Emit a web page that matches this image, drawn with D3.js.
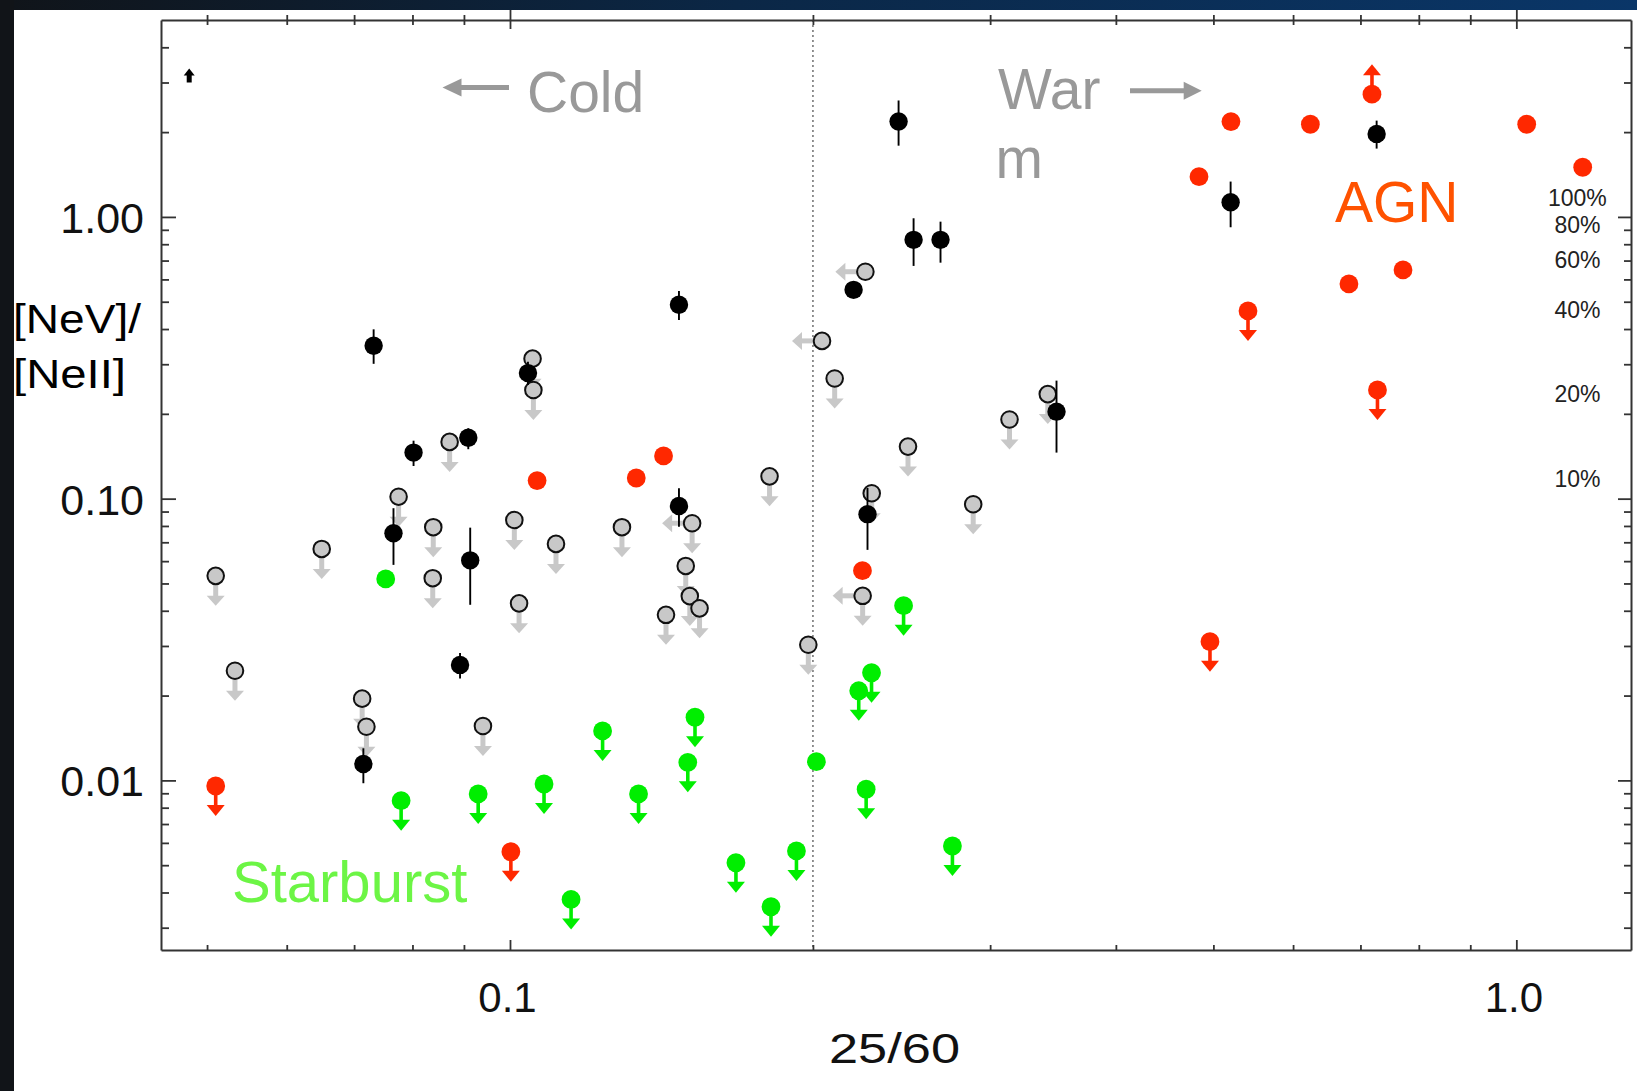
<!DOCTYPE html>
<html><head><meta charset="utf-8">
<script src="https://cdn.jsdelivr.net/npm/d3@7"></script>
<style>html,body{margin:0;padding:0;background:#0f141c;overflow:hidden;} svg{display:block;}</style>
</head><body><svg id="c" width="1637" height="1091"></svg>
<script>
// ---------------- data ----------------
// axis ticks
const xMajorTicks = [0.1, 1.0];
const xMinorTicks = [0.05,0.06,0.07,0.08,0.09,0.2,0.3,0.4,0.5,0.6,0.7,0.8,0.9];
const yMajorTicks = [0.01, 0.1, 1];
const yMinorTicks = [0.003,0.004,0.005,0.006,0.007,0.008,0.009,0.02,0.03,0.04,0.05,0.06,0.07,0.08,0.09,0.2,0.3,0.4,0.5,0.6,0.7,0.8,0.9,2,3,4];
const coldWarmBoundary = 0.2;

// AGN-fraction labels on the right
const pctLabels = ["100%","80%","60%","40%","20%","10%"];
const pctY = [1.171, 0.937, 0.704, 0.470, 0.235, 0.118];
const pctX = 1.15;

// black detections with error bars
const blackX  = [0.0732,0.1042,0.0802,0.0909,0.2433,0.2518,0.2678,0.2195,0.1472,0.3492,0.7264,0.5201,0.0766,0.0913,0.0892,0.0715,0.1472,0.2266];
const blackY  = [0.349, 0.279, 0.1457,0.1646,2.18,  0.829, 0.829, 0.551, 0.488, 0.2036,1.971, 1.128, 0.0754,0.0604,0.0257,0.01143,0.0942,0.0881];
const blackLo = [0.301, 0.253, 0.1306,0.1498,1.79,  0.670, 0.688, 0.551, 0.431, 0.1457,1.748, 0.919, 0.0582,0.0420,0.0230,0.00977,0.0795,0.0658];
const blackHi = [0.399, 0.306, 0.1606,0.1778,2.59,  0.989, 0.962, 0.551, 0.546, 0.2624,2.197, 1.335, 0.0925,0.0789,0.0283,0.0130, 0.1089,0.1091];

// black lower limit (tiny up arrow)
const blackUpX = [0.048];
const blackUpY = [3.0];

// gray upper limits ('d' = down arrow, 'l' = left arrow, 'ld' = both)
const grayX = [0.1053,0.1055,0.0871,0.2255,0.2042,0.2102,0.3423,0.3136,0.2486,0.1811,0.0775,0.0839,0.1010,0.1111,0.1292,0.0650,0.0510,0.0838,0.1021,0.0533,0.0713,0.0720,0.0940,0.1517,0.2288,0.2886,0.1495,0.1509,0.1543,0.1429,0.2241,0.1979];
const grayY = [0.314, 0.243, 0.159, 0.639, 0.363, 0.267, 0.235, 0.191, 0.153, 0.120, 0.1016,0.0792,0.0840,0.0691,0.0792,0.0663,0.0532,0.0522,0.0425,0.0245,0.0195,0.0155,0.0156,0.0818,0.1045,0.0955,0.0577,0.0451,0.0408,0.0387,0.0452,0.0303];
const grayKind = ['d','d','d','l','l','d','d','d','d','d','d','d','d','d','d','d','d','d','d','d','d','d','d','ld','d','d','d','d','d','d','ld','d'];

// red (AGN) detections
const redX = [0.1064,0.1335,0.1421,0.2240,0.5205,0.6242,1.024,1.164,0.4838,0.7716,0.6818];
const redY = [0.1159,0.1184,0.1418,0.0555,2.179, 2.133, 2.133,1.501,1.390, 0.6485,0.5783];
// red upper limits
const redLimX = [0.5412,0.7278,0.4961,0.0510,0.1002];
const redLimY = [0.4637,0.2431,0.03107,0.00955,0.00558];
// red lower limit
const redLowX = [0.7187];
const redLowY = [2.727];

// green (starburst) detections
const greenX = [0.07525,0.2016];
const greenY = [0.0519, 0.01165];
// green upper limits
const greenLimX = [0.1236,0.07795,0.09298,0.1081,0.1342,0.1150,0.2461,0.2287,0.2221,0.1527,0.1502,0.2259,0.2752,0.1926,0.1677,0.1817];
const greenLimY = [0.01498,0.00847,0.00895,0.00971,0.00895,0.00378,0.0417,0.0241,0.0208,0.01675,0.01159,0.0093,0.00585,0.00562,0.00510,0.00356];

// ---------------- drawing ----------------
const W = 1637, H = 1091;
const svg = d3.select('#c');
const defs = svg.append('defs');
const grad = defs.append('linearGradient').attr('id','bg').attr('x1',0).attr('x2',1).attr('y1',0).attr('y2',0);
grad.append('stop').attr('offset','0%').attr('stop-color','#101419');
grad.append('stop').attr('offset','45%').attr('stop-color','#0b2746');
grad.append('stop').attr('offset','100%').attr('stop-color','#0a3668');
svg.append('rect').attr('width',W).attr('height',H).attr('fill','url(#bg)');
svg.append('rect').attr('x',0).attr('y',0).attr('width',14).attr('height',H).attr('fill','#111418');
svg.append('rect').attr('x',14).attr('y',10).attr('width',W-14).attr('height',H-10).attr('fill','#ffffff');

const L = 161, R = 1631, T = 20, B = 950;
const x = d3.scaleLog().domain([0.045, 1.3]).range([L, R]);
const y = d3.scaleLog().domain([0.0025, 5]).range([B, T]);

const FONT = "'Liberation Sans', Arial, Helvetica, sans-serif";
const AX = '#333';

function styleAxis(g, keepDomain){
  g.selectAll('path.domain').attr('stroke', AX).attr('stroke-width', 2);
  if(!keepDomain) g.selectAll('path.domain').remove();
  g.selectAll('.tick line').attr('stroke', AX).attr('stroke-width', 1.8);
  g.selectAll('.tick text').attr('font-family', FONT).attr('fill', '#111');
}

// dotted boundary
svg.append('line')
  .attr('x1', x(coldWarmBoundary)).attr('x2', x(coldWarmBoundary))
  .attr('y1', T).attr('y2', B)
  .attr('stroke', '#808080').attr('stroke-width', 1.7).attr('stroke-dasharray', '2,3');

// left axis
const gl = svg.append('g').attr('transform', `translate(${L},0)`);
gl.call(d3.axisLeft(y).tickValues(yMinorTicks).tickSize(-8).tickSizeOuter(0).tickFormat(''));
styleAxis(gl, false);
const gl2 = svg.append('g').attr('transform', `translate(${L},0)`);
gl2.call(d3.axisLeft(y).tickValues(yMajorTicks).tickSize(-15).tickSizeOuter(0).tickPadding(17).tickFormat(d3.format('.2f')));
styleAxis(gl2, true);
gl2.selectAll('.tick text').attr('font-size', 43).attr('dy', '0.36em');

// right axis
const gr = svg.append('g').attr('transform', `translate(${R},0)`);
gr.call(d3.axisRight(y).tickValues(yMinorTicks).tickSize(-7).tickSizeOuter(0).tickFormat(''));
styleAxis(gr, false);
const gr2 = svg.append('g').attr('transform', `translate(${R},0)`);
gr2.call(d3.axisRight(y).tickValues(yMajorTicks).tickSize(-13).tickSizeOuter(0).tickFormat(''));
styleAxis(gr2, true);

// bottom axis
const gb = svg.append('g').attr('transform', `translate(0,${B})`);
gb.call(d3.axisBottom(x).tickValues(xMinorTicks).tickSize(-5).tickSizeOuter(0).tickFormat(''));
styleAxis(gb, false);
const gb2 = svg.append('g').attr('transform', `translate(0,${B})`);
gb2.call(d3.axisBottom(x).tickValues(xMajorTicks).tickSize(-10).tickSizeOuter(0).tickPadding(32).tickFormat(d3.format('.1f')));
styleAxis(gb2, true);
gb2.selectAll('.tick text').attr('font-size', 42).attr('dx', -3);

// top axis (ticks cross the line)
const gt = svg.append('g').attr('transform', `translate(0,${T})`);
gt.call(d3.axisTop(x).tickValues(xMinorTicks).tickSize(5).tickSizeOuter(0).tickFormat(''));
styleAxis(gt, false);
gt.selectAll('.tick line').attr('y1', 5);
const gt2 = svg.append('g').attr('transform', `translate(0,${T})`);
gt2.call(d3.axisTop(x).tickValues(xMajorTicks).tickSize(10).tickSizeOuter(0).tickFormat(''));
styleAxis(gt2, true);
gt2.selectAll('.tick line').attr('y1', 9);

// axis titles
svg.append('text').attr('x', 829).attr('y', 1063)
  .attr('textLength', 131).attr('lengthAdjust', 'spacingAndGlyphs')
  .attr('font-family', FONT).attr('font-size', 42).attr('fill', '#111').text('25/60');
const yt = svg.append('g').attr('font-family', FONT).attr('font-size', 40).attr('fill', '#000');
yt.append('text').attr('x', 13).attr('y', 333).attr('textLength', 128).attr('lengthAdjust', 'spacingAndGlyphs').text('[NeV]/');
yt.append('text').attr('x', 13).attr('y', 388).attr('textLength', 113).attr('lengthAdjust', 'spacingAndGlyphs').text('[NeII]');

// percentage labels
svg.append('g').selectAll('text').data(pctLabels).join('text')
  .attr('x', x(pctX)).attr('y', (d,i) => y(pctY[i])).attr('dy', '0.36em')
  .attr('text-anchor', 'middle').attr('font-family', FONT).attr('font-size', 23).attr('fill', '#222')
  .text(d => d);

// annotation texts and arrows
function arrowPath(x1, y1, x2, y2, shaftW, headHW, headL, color, parent){
  const dx = x2 - x1, dy = y2 - y1, len = Math.hypot(dx, dy);
  const ux = dx / len, uy = dy / len, px = -uy, py = ux;
  const bx = x2 - ux * headL, by = y2 - uy * headL;
  parent.append('line').attr('x1', x1).attr('y1', y1).attr('x2', bx + ux * 1).attr('y2', by + uy * 1)
    .attr('stroke', color).attr('stroke-width', shaftW);
  parent.append('path')
    .attr('d', `M${bx + px*headHW},${by + py*headHW}L${bx - px*headHW},${by - py*headHW}L${x2},${y2}Z`)
    .attr('fill', color);
}
const ann = svg.append('g').attr('font-family', FONT).attr('font-size', 57);
arrowPath(509, 87.5, 442.5, 87.5, 5, 9, 19, '#999', ann);
ann.append('text').attr('x', 527).attr('y', 111.7).attr('fill', '#999').text('Cold');
ann.append('text').attr('x', 998).attr('y', 109.3).attr('fill', '#999').text('War');
ann.append('text').attr('x', 995.5).attr('y', 178.3).attr('fill', '#999').text('m');
arrowPath(1130, 90.7, 1201.7, 90.7, 5, 9, 18, '#999', ann);
ann.append('text').attr('x', 1335).attr('y', 221.7).attr('fill', '#ff5200').text('AGN');
ann.append('text').attr('x', 232).attr('y', 902.3).attr('font-size', 58).attr('fill', '#6cf545').text('Starburst');

// ---------- points ----------
const GRAY = '#c8c8c8', GREEN = '#00ee00', RED = '#ff2800';
const ARW = 30;

// gray upper limits
const gG = svg.append('g');
grayX.forEach((v, i) => {
  const cx = x(v), cy = y(grayY[i]);
  const k = grayKind[i];
  if (k.includes('d')) arrowPath(cx, cy, cx, cy + ARW, 5, 9, 10, GRAY, gG);
  if (k.includes('l')) arrowPath(cx, cy, cx - ARW, cy, 5, 9, 10, GRAY, gG);
  gG.append('circle').attr('cx', cx).attr('cy', cy).attr('r', 8.3)
    .attr('fill', GRAY).attr('stroke', '#111').attr('stroke-width', 2);
});

// green
const gGr = svg.append('g');
greenLimX.forEach((v, i) => {
  const cx = x(v), cy = y(greenLimY[i]);
  arrowPath(cx, cy, cx, cy + ARW, 3.6, 9, 11, GREEN, gGr);
  gGr.append('circle').attr('cx', cx).attr('cy', cy).attr('r', 9.4).attr('fill', GREEN);
});
gGr.selectAll('circle.det').data(greenX).join('circle').attr('class', 'det')
  .attr('cx', d => x(d)).attr('cy', (d,i) => y(greenY[i])).attr('r', 9.4).attr('fill', GREEN);

// red
const gR = svg.append('g');
redLimX.forEach((v, i) => {
  const cx = x(v), cy = y(redLimY[i]);
  arrowPath(cx, cy, cx, cy + ARW, 3.6, 9, 11, RED, gR);
  gR.append('circle').attr('cx', cx).attr('cy', cy).attr('r', 9.4).attr('fill', RED);
});
redLowX.forEach((v, i) => {
  const cx = x(v), cy = y(redLowY[i]);
  arrowPath(cx, cy, cx, cy - ARW, 3.6, 9, 11, RED, gR);
  gR.append('circle').attr('cx', cx).attr('cy', cy).attr('r', 9.4).attr('fill', RED);
});
gR.selectAll('circle.det').data(redX).join('circle').attr('class', 'det')
  .attr('cx', d => x(d)).attr('cy', (d,i) => y(redY[i])).attr('r', 9.4).attr('fill', RED);

// black
const gB = svg.append('g');
blackX.forEach((v, i) => {
  const cx = x(v);
  gB.append('line').attr('x1', cx).attr('x2', cx)
    .attr('y1', y(blackHi[i])).attr('y2', y(blackLo[i]))
    .attr('stroke', '#000').attr('stroke-width', 1.9);
  gB.append('circle').attr('cx', cx).attr('cy', y(blackY[i])).attr('r', 9.2).attr('fill', '#000');
});
blackUpX.forEach((v, i) => {
  const cx = x(v), cy = y(blackUpY[i]);
  arrowPath(cx, cy, cx, cy - 14, 5, 5.5, 7, '#000', gB);
});
</script>
</body></html>
